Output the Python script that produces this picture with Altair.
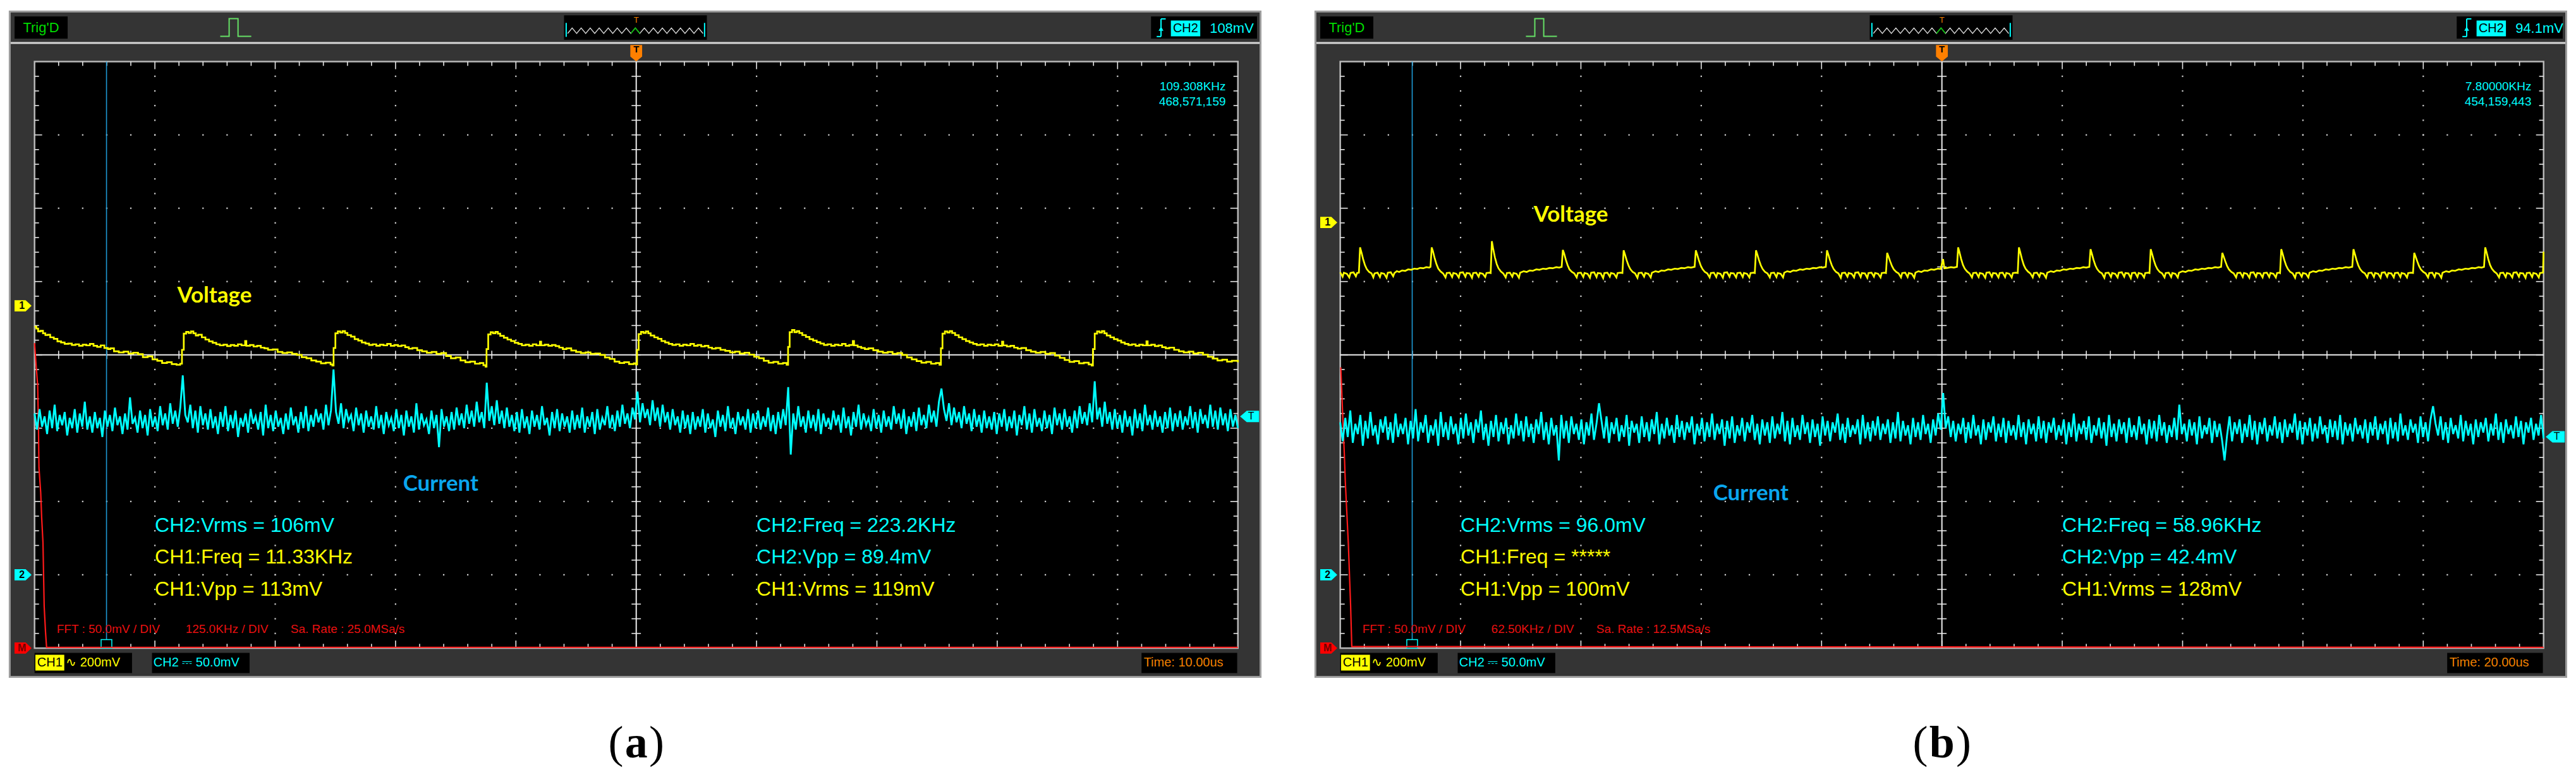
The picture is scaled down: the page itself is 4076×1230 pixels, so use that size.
import altair as alt
import pandas as pd

# ------------------------------------------------------------------ data
# Panel (a): 10 us/div, panel (b): 20 us/div.  CH1 = 200 mV/div, CH2 = 50 mV/div.
# Positions of channel markers (in screen divisions from centre).
ch1_marker = {"a": 0.669, "b": 1.806}
ch2_marker = {"a": -3.0, "b": -3.0}
trig_level_mv = {"a": 108.0, "b": 94.1}
timebase_us = {"a": 10.0, "b": 20.0}
fft_khz_per_div = {"a": 125.0, "b": 62.5}

# CH1 voltage, panel (a): (time us, mV relative to CH1 marker)
volt_a = [
    (0.0,-57),(0.15,-62),(0.3,-70),(0.5,-68),(0.7,-75),(0.9,-80),(1.1,-79),(1.3,-86),(1.6,-90),(1.9,-97),(2.2,-100),(2.5,-104),(2.8,-103),(3.1,-107),(3.4,-105),(3.7,-109),(4.0,-106),(4.3,-108),(4.6,-104),(4.9,-109),(5.2,-112),(5.5,-108),(5.8,-115),(6.1,-118),(6.3,-116),(6.6,-124),(7.0,-127),(7.4,-125),(7.8,-130),(8.2,-128),(8.6,-132),(9.0,-140),(9.4,-138),(9.8,-146),(10.2,-150),(10.6,-156),(11.0,-154),(11.4,-159),(11.8,-161),(12.1,-158),
    (12.25,-120),(12.4,-76),(12.6,-71),(12.8,-74),(13.0,-70),(13.2,-75),(13.4,-81),(13.6,-79),(13.9,-86),(14.2,-92),(14.5,-97),(14.8,-101),(15.1,-105),(15.4,-108),(15.7,-106),(16.0,-110),(16.3,-107),(16.6,-109),(16.9,-105),(17.2,-108),(17.5,-96),(17.6,-109),(17.9,-107),(18.2,-111),(18.5,-109),(18.8,-114),(19.1,-116),(19.4,-120),(19.8,-119),(20.2,-126),(20.6,-129),(21.0,-127),(21.4,-131),(21.8,-134),(22.2,-140),(22.6,-143),(23.0,-149),(23.4,-152),(23.8,-157),(24.2,-155),(24.6,-160),(24.75,-163),
    (24.85,-115),(25.0,-75),(25.2,-70),(25.4,-73),(25.6,-69),(25.8,-74),(26.0,-80),(26.3,-84),(26.6,-91),(26.9,-95),(27.2,-100),(27.5,-103),(27.8,-107),(28.1,-105),(28.4,-109),(28.7,-106),(29.0,-108),(29.3,-104),(29.6,-109),(29.9,-107),(30.2,-110),(30.5,-108),(30.8,-113),(31.1,-117),(31.4,-115),(31.8,-121),(32.2,-124),(32.6,-128),(33.0,-126),(33.4,-131),(33.8,-129),(34.2,-137),(34.6,-143),(35.0,-141),(35.4,-149),(35.8,-154),(36.2,-152),(36.6,-158),(37.0,-156),(37.3,-162),(37.48,-166),
    (37.56,-118),(37.7,-78),(37.9,-72),(38.1,-75),(38.3,-71),(38.5,-76),(38.7,-82),(39.0,-87),(39.3,-92),(39.6,-96),(39.9,-101),(40.2,-104),(40.5,-108),(40.8,-106),(41.1,-109),(41.4,-105),(41.7,-108),(42.0,-98),(42.1,-108),(42.4,-106),(42.7,-109),(43.0,-107),(43.3,-110),(43.6,-114),(43.9,-118),(44.2,-116),(44.6,-122),(45.0,-126),(45.4,-129),(45.8,-127),(46.2,-131),(46.6,-130),(47.0,-134),(47.4,-141),(47.8,-145),(48.2,-152),(48.6,-156),(49.0,-154),(49.4,-159),(49.8,-157),(49.98,-160),
    (50.07,-120),(50.2,-77),(50.4,-71),(50.6,-74),(50.8,-70),(51.0,-75),(51.2,-81),(51.5,-86),(51.8,-90),(52.1,-96),(52.4,-100),(52.7,-104),(53.0,-107),(53.3,-105),(53.6,-109),(53.9,-106),(54.2,-108),(54.5,-104),(54.8,-109),(55.1,-107),(55.4,-111),(55.7,-109),(56.0,-114),(56.3,-117),(56.6,-115),(57.0,-120),(57.4,-123),(57.8,-127),(58.2,-125),(58.6,-130),(59.0,-128),(59.4,-133),(59.8,-139),(60.2,-143),(60.6,-150),(61.0,-155),(61.4,-153),(61.8,-158),(62.2,-156),(62.5,-161),
    (62.62,-112),(62.75,-72),(62.95,-66),(63.15,-72),(63.35,-69),(63.55,-74),(63.8,-80),(64.1,-85),(64.4,-91),(64.7,-95),(65.0,-99),(65.3,-103),(65.6,-107),(65.9,-105),(66.2,-109),(66.5,-106),(66.8,-108),(67.1,-104),(67.4,-109),(67.7,-107),(68.0,-96),(68.1,-108),(68.4,-112),(68.7,-115),(69.0,-118),(69.3,-116),(69.7,-121),(70.1,-125),(70.5,-128),(70.9,-126),(71.3,-131),(71.7,-129),(72.1,-134),(72.5,-141),(72.9,-146),(73.3,-151),(73.7,-155),(74.1,-153),(74.5,-158),(74.9,-156),(75.2,-161),
    (75.32,-116),(75.45,-76),(75.65,-70),(75.85,-73),(76.05,-69),(76.25,-74),(76.5,-80),(76.8,-86),(77.1,-91),(77.4,-96),(77.7,-100),(78.0,-104),(78.3,-107),(78.6,-105),(78.9,-109),(79.2,-106),(79.5,-108),(79.8,-105),(80.1,-109),(80.4,-98),(80.5,-108),(80.8,-111),(81.1,-109),(81.4,-114),(81.7,-117),(82.0,-115),(82.4,-121),(82.8,-125),(83.2,-128),(83.6,-126),(84.0,-131),(84.4,-129),(84.8,-136),(85.2,-142),(85.6,-148),(86.0,-153),(86.4,-151),(86.8,-157),(87.2,-155),(87.6,-160),(87.85,-163),
    (87.95,-118),(88.1,-76),(88.3,-70),(88.5,-73),(88.7,-69),(88.9,-75),(89.1,-81),(89.4,-86),(89.7,-91),(90.0,-95),(90.3,-100),(90.6,-104),(90.9,-107),(91.2,-105),(91.5,-109),(91.8,-106),(92.1,-108),(92.4,-97),(92.5,-108),(92.8,-106),(93.1,-110),(93.4,-108),(93.7,-113),(94.0,-116),(94.3,-114),(94.7,-120),(95.1,-124),(95.5,-127),(95.9,-125),(96.3,-130),(96.7,-128),(97.1,-133),(97.5,-139),(97.9,-144),(98.3,-149),(98.7,-147),(99.1,-152),(99.5,-150),(100.0,-154),
]

# CH1 voltage, panel (b): (time us, mV relative to CH1 marker)
volt_b = [
    (0.0,-136),(0.4,-148),(0.6,-137),(1.1,-140),(1.5,-150),(1.7,-138),(2.2,-136),(2.6,-147),(2.8,-138),(3.1,-137),
    (3.3,-68),(3.5,-80),(3.8,-100),(4.1,-116),(4.4,-127),(4.8,-135),(5.2,-139),(5.5,-150),(5.7,-139),(6.2,-137),(6.6,-149),(6.8,-138),(7.3,-140),(7.7,-151),(7.9,-137),(8.4,-136),(8.8,-147),(9.0,-138),
    (9.4,-133),(9.8,-135),(10.3,-131),(10.8,-132),(11.3,-128),(11.8,-129),(12.3,-126),(12.8,-127),(13.3,-124),(13.8,-125),(14.3,-122),(14.8,-123),(15.0,-121),
    (15.2,-68),(15.4,-78),(15.7,-98),(16.0,-114),(16.3,-126),(16.7,-134),(17.1,-139),(17.5,-150),(17.7,-138),(18.2,-137),(18.6,-149),(18.8,-138),(19.3,-140),(19.7,-150),(19.9,-137),(20.4,-136),(20.8,-148),(21.0,-138),(21.5,-139),(21.9,-151),(22.1,-138),(22.6,-137),(23.0,-148),(23.2,-138),(23.7,-140),(24.1,-149),(24.3,-138),(24.8,-137),(25.0,-138),
    (25.2,-51),(25.4,-70),(25.7,-95),(26.0,-113),(26.3,-125),(26.7,-134),(27.1,-139),(27.5,-150),(27.7,-138),(28.2,-137),(28.6,-148),(28.8,-138),(29.3,-140),(29.7,-151),(29.9,-137),
    (30.5,-133),(31.0,-135),(31.5,-131),(32.0,-132),(32.6,-128),(33.1,-129),(33.7,-126),(34.2,-127),(34.8,-124),(35.3,-125),(35.9,-122),(36.4,-123),(36.8,-121),
    (37.0,-75),(37.2,-84),(37.5,-102),(37.8,-117),(38.1,-128),(38.5,-135),(38.9,-139),(39.3,-150),(39.5,-138),(40.0,-137),(40.4,-149),(40.6,-138),(41.1,-140),(41.5,-151),(41.7,-137),(42.2,-136),(42.6,-149),(42.8,-138),(43.3,-139),(43.7,-152),(43.9,-138),(44.4,-137),(44.8,-148),(45.0,-138),(45.5,-140),(45.9,-150),(46.1,-138),(46.6,-137),(46.9,-138),
    (47.1,-76),(47.3,-86),(47.6,-103),(47.9,-117),(48.2,-127),(48.6,-135),(49.0,-139),(49.4,-151),(49.6,-138),(50.1,-137),(50.5,-148),(50.7,-138),(51.2,-140),(51.6,-150),(51.8,-137),
    (52.4,-133),(52.9,-135),(53.4,-131),(53.9,-132),(54.5,-128),(55.0,-129),(55.6,-126),(56.1,-127),(56.7,-124),(57.2,-125),(57.8,-122),(58.3,-123),(58.9,-121),
    (59.1,-76),(59.3,-86),(59.6,-103),(59.9,-117),(60.2,-127),(60.6,-135),(61.0,-139),(61.4,-150),(61.6,-138),(62.1,-137),(62.5,-149),(62.7,-138),(63.2,-140),(63.6,-151),(63.8,-137),(64.3,-136),(64.7,-148),(64.9,-138),(65.4,-139),(65.8,-150),(66.0,-138),(66.5,-137),(66.9,-149),(67.1,-138),(67.6,-140),(68.0,-150),(68.2,-138),(68.7,-137),(68.9,-138),
    (69.1,-76),(69.3,-86),(69.6,-103),(69.9,-117),(70.2,-127),(70.6,-135),(71.0,-139),(71.4,-150),(71.6,-138),(72.1,-137),(72.5,-149),(72.7,-138),(73.2,-140),(73.6,-150),(73.8,-137),
    (74.3,-133),(74.8,-135),(75.3,-131),(75.8,-132),(76.4,-128),(76.9,-129),(77.5,-126),(78.0,-127),(78.6,-124),(79.1,-125),(79.7,-122),(80.2,-123),(80.7,-121),
    (80.9,-76),(81.1,-86),(81.4,-103),(81.7,-117),(82.0,-127),(82.4,-135),(82.8,-139),(83.2,-151),(83.4,-138),(83.9,-137),(84.3,-148),(84.5,-138),(85.0,-140),(85.4,-150),(85.6,-137),(86.1,-136),(86.5,-149),(86.7,-138),(87.2,-139),(87.6,-151),(87.8,-138),(88.3,-137),(88.7,-148),(88.9,-138),(89.4,-140),(89.8,-150),(90.0,-138),(90.5,-137),(90.7,-138),
    (90.9,-83),(91.1,-92),(91.4,-106),(91.7,-119),(92.0,-128),(92.4,-135),(92.8,-139),(93.2,-150),(93.4,-138),(93.9,-137),(94.3,-149),(94.5,-138),(95.0,-140),(95.4,-151),(95.6,-137),
    (96.1,-133),(96.6,-135),(97.1,-131),(97.6,-132),(98.2,-128),(98.7,-129),(99.3,-126),(99.8,-127),(100.2,-100),(100.4,-125),(100.9,-124),(101.5,-122),(102.0,-123),(102.5,-121),
    (102.7,-68),(102.9,-80),(103.2,-100),(103.5,-116),(103.8,-126),(104.2,-134),(104.6,-139),(105.0,-150),(105.2,-138),(105.7,-137),(106.1,-149),(106.3,-138),(106.8,-140),(107.2,-151),(107.4,-137),(107.9,-136),(108.3,-148),(108.5,-138),(109.0,-139),(109.4,-150),(109.6,-138),(110.1,-137),(110.5,-149),(110.7,-138),(111.2,-140),(111.6,-150),(111.8,-138),(112.3,-137),(112.6,-138),
    (112.8,-68),(113.0,-80),(113.3,-100),(113.6,-116),(113.9,-126),(114.3,-134),(114.7,-139),(115.1,-150),(115.3,-138),(115.8,-137),(116.2,-148),(116.4,-138),(116.9,-140),(117.3,-151),(117.5,-137),
    (118.1,-133),(118.6,-135),(119.1,-131),(119.6,-132),(120.2,-128),(120.7,-129),(121.3,-126),(121.8,-127),(122.4,-124),(122.9,-125),(123.5,-122),(124.0,-123),(124.5,-121),
    (124.7,-73),(124.9,-84),(125.2,-102),(125.5,-117),(125.8,-127),(126.2,-135),(126.6,-139),(127.0,-151),(127.2,-138),(127.7,-137),(128.1,-149),(128.3,-138),(128.8,-140),(129.2,-150),(129.4,-137),(129.9,-136),(130.3,-148),(130.5,-138),(131.0,-139),(131.4,-152),(131.6,-138),(132.1,-137),(132.5,-149),(132.7,-138),(133.2,-140),(133.6,-150),(133.8,-138),(134.3,-137),(134.5,-138),
    (134.7,-73),(134.9,-84),(135.2,-102),(135.5,-117),(135.8,-127),(136.2,-135),(136.6,-139),(137.0,-150),(137.2,-138),(137.7,-137),(138.1,-149),(138.3,-138),(138.8,-140),(139.2,-150),(139.4,-137),
    (140.0,-133),(140.5,-135),(141.0,-131),(141.5,-132),(142.1,-128),(142.6,-129),(143.2,-126),(143.7,-127),(144.3,-124),(144.8,-125),(145.4,-122),(145.9,-123),(146.4,-121),
    (146.6,-83),(146.8,-92),(147.1,-106),(147.4,-119),(147.7,-128),(148.1,-135),(148.5,-139),(148.9,-150),(149.1,-138),(149.6,-137),(150.0,-149),(150.2,-138),(150.7,-140),(151.1,-151),(151.3,-137),(151.8,-136),(152.2,-148),(152.4,-138),(152.9,-139),(153.3,-150),(153.5,-138),(154.0,-137),(154.4,-149),(154.6,-138),(155.1,-140),(155.5,-150),(155.7,-138),(156.1,-137),(156.2,-138),
    (156.4,-73),(156.6,-84),(156.9,-102),(157.2,-117),(157.5,-127),(157.9,-135),(158.3,-139),(158.7,-151),(158.9,-138),(159.4,-137),(159.8,-148),(160.0,-138),(160.5,-140),(160.9,-150),(161.1,-137),
    (161.7,-133),(162.2,-135),(162.7,-131),(163.2,-132),(163.8,-128),(164.3,-129),(164.9,-126),(165.4,-127),(166.0,-124),(166.5,-125),(167.1,-122),(167.6,-123),(168.2,-121),
    (168.4,-73),(168.6,-84),(168.9,-102),(169.2,-117),(169.5,-127),(169.9,-135),(170.3,-139),(170.7,-150),(170.9,-138),(171.4,-137),(171.8,-149),(172.0,-138),(172.5,-140),(172.9,-151),(173.1,-137),(173.6,-136),(174.0,-148),(174.2,-138),(174.7,-139),(175.1,-150),(175.3,-138),(175.8,-137),(176.2,-149),(176.4,-138),(176.9,-140),(177.3,-150),(177.5,-138),(178.0,-137),(178.3,-138),
    (178.5,-83),(178.7,-92),(179.0,-106),(179.3,-119),(179.6,-128),(180.0,-135),(180.4,-139),(180.8,-150),(181.0,-138),(181.5,-137),(181.9,-149),(182.1,-138),(182.6,-140),(183.0,-151),(183.2,-137),
    (183.8,-133),(184.3,-135),(184.8,-131),(185.3,-132),(185.9,-128),(186.4,-129),(187.0,-126),(187.5,-127),(188.1,-124),(188.6,-125),(189.2,-122),(189.7,-123),(190.1,-121),
    (190.3,-68),(190.5,-80),(190.8,-100),(191.1,-116),(191.4,-126),(191.8,-134),(192.2,-139),(192.6,-150),(192.8,-138),(193.3,-137),(193.7,-149),(193.9,-138),(194.4,-140),(194.8,-150),(195.0,-137),(195.5,-136),(195.9,-148),(196.1,-138),(196.6,-139),(197.0,-151),(197.2,-138),(197.7,-137),(198.1,-149),(198.3,-138),(198.8,-140),(199.2,-150),(199.4,-138),(199.9,-137),(200.0,-80),
]

# CH2 current samples (mV relative to CH2 marker), evenly spaced over the record
curr_a = [
    110,99,113,101,108,96,112,100,116,98,109,102,111,95,107,100,113,97,110,101,118,99,108,97,
    111,100,107,94,112,101,109,98,114,102,108,96,110,99,121,103,107,97,112,100,109,95,113,101,
    108,98,115,102,110,99,117,103,112,101,114,136,109,104,116,100,112,97,115,102,110,99,113,100,
    108,96,111,101,115,98,109,100,112,94,107,101,110,97,113,103,108,99,111,95,116,100,109,98,
    112,101,107,96,110,99,114,102,108,97,111,100,115,98,109,101,113,104,110,99,116,102,112,140,
    111,103,117,100,113,105,109,98,114,102,110,97,112,101,108,99,115,100,109,96,111,102,107,98,
    113,100,109,95,112,101,108,97,117,99,110,102,106,96,112,100,109,87,113,101,108,98,111,99,
    114,102,110,100,116,103,112,101,118,104,111,100,131,105,115,102,119,103,112,100,114,101,109,98,
    111,97,113,100,108,96,112,101,109,99,115,102,107,95,111,100,113,98,110,101,108,97,112,99,
    109,100,114,97,108,101,111,96,113,99,107,102,115,100,109,98,112,101,116,103,110,100,114,106,
    125,104,117,107,113,102,119,105,114,101,116,104,111,99,113,102,108,97,112,100,109,96,111,99,
    108,101,113,97,110,100,106,94,112,101,109,98,115,100,107,96,111,102,108,99,113,97,110,100,
    112,99,108,101,114,98,109,96,111,100,113,102,128,82,110,99,115,101,108,97,112,100,109,98,
    113,96,110,101,107,99,112,102,109,97,114,100,108,95,111,101,116,99,110,102,107,98,113,100,
    109,97,112,101,108,99,115,103,110,100,113,96,108,101,111,98,114,102,109,100,116,104,112,101,
    118,127,113,105,117,102,114,104,111,100,115,103,110,98,113,101,109,97,112,100,108,99,111,96,
    110,101,113,98,108,100,112,95,109,102,115,99,110,97,113,101,107,98,112,100,109,96,114,102,
    110,99,113,101,108,97,112,100,115,103,111,102,117,104,132,106,114,101,118,103,111,99,113,100,
    109,97,112,101,108,95,113,100,110,98,116,102,109,99,112,101,108,97,111,100,114,98,110,101,
    112,99,108,102,115,100,111,97,113,103,109,100,116,101,112,99,114,102,110,98,113,101,109,100,
]
curr_b = [
    104,91,107,94,112,90,103,96,109,88,105,93,111,95,102,89,106,97,108,92,104,90,110,94,
    103,96,107,89,105,93,113,91,104,97,109,90,102,95,106,88,111,94,104,92,108,96,103,89,
    107,93,110,95,104,90,106,97,112,92,103,88,105,94,109,91,104,96,107,89,102,93,110,95,
    105,91,108,94,103,90,106,96,111,92,104,89,107,95,102,78,109,93,105,90,108,96,103,92,
    106,89,104,95,110,92,103,117,105,93,108,90,104,96,107,91,102,94,109,88,105,97,103,90,
    108,94,104,91,106,96,111,89,103,93,107,95,102,90,109,94,105,92,104,97,108,89,103,95,
    107,91,104,94,110,92,103,96,106,88,105,93,108,90,102,95,107,91,104,97,109,92,103,89,
    106,95,104,90,108,93,103,96,111,91,105,89,107,94,102,92,109,96,104,90,106,94,103,88,
    108,95,105,91,104,97,110,92,103,90,107,94,102,96,106,89,109,93,104,91,105,95,108,92,
    103,96,106,90,104,93,111,91,105,95,102,89,107,94,104,92,109,96,103,90,106,95,110,99,
    124,100,108,94,105,91,103,96,107,90,104,93,109,95,102,89,106,92,104,97,108,91,103,94,
    107,90,105,95,102,92,109,94,104,89,106,96,103,91,108,93,105,90,104,97,107,92,102,95,
    106,89,104,94,110,91,103,96,105,92,108,90,102,95,107,93,104,88,109,94,103,91,106,96,
    104,90,107,94,102,92,108,96,103,89,106,93,105,91,109,95,104,90,102,94,107,92,116,96,
    103,91,106,95,104,89,108,93,102,96,107,90,105,94,103,92,78,95,108,91,104,96,106,90,
    103,94,109,92,105,89,104,96,107,91,102,95,108,93,104,90,106,94,103,97,110,92,105,89,
    104,95,107,91,103,93,108,96,102,90,106,94,105,92,109,89,104,95,103,91,107,96,102,93,
    106,90,104,95,108,92,103,96,105,89,107,93,104,91,110,95,102,92,106,97,103,90,108,94,
    104,91,106,115,103,95,108,92,104,90,107,96,102,93,109,91,105,95,103,89,106,94,104,97,
    107,91,103,95,110,92,104,90,106,96,102,93,108,94,105,89,104,97,107,92,103,95,109,93,
]

# FFT (math) trace: frequency kHz, amplitude mV above the M marker (50 mV/div)
fft_a_khz = [0, 1.5, 3.25, 4.1, 4.6, 6.4, 7.4, 8.75, 10.0, 11.4, 12.5, 1250]
fft_a_mv = [208, 194, 179, 149, 123, 106, 89, 72, 28.5, 11, 0.5, 0.5]
fft_b_khz = [0.3, 1.25, 2.2, 2.6, 4.2, 5.4, 6.0, 625]
fft_b_mv = [191.5, 160, 130, 114.5, 71.5, 28.5, 1, 0.5]

# Readouts
meas_left = {
    "a": ["CH2:Vrms = 106mV", "CH1:Freq = 11.33KHz", "CH1:Vpp = 113mV"],
    "b": ["CH2:Vrms = 96.0mV", "CH1:Freq = *****", "CH1:Vpp = 100mV"],
}
meas_right = {
    "a": ["CH2:Freq = 223.2KHz", "CH2:Vpp = 89.4mV", "CH1:Vrms = 119mV"],
    "b": ["CH2:Freq = 58.96KHz", "CH2:Vpp = 42.4mV", "CH1:Vrms = 128mV"],
}
meas_left_ch = ["CH2", "CH1", "CH1"]
meas_right_ch = ["CH2", "CH2", "CH1"]
counter_text = {"a": ["109.308KHz", "468,571,159"], "b": ["7.80000KHz", "454,159,443"]}
trig_text = {"a": "108mV", "b": "94.1mV"}
fft_text = {
    "a": ["FFT :  50.0mV / DIV", "125.0KHz / DIV", "Sa. Rate : 25.0MSa/s"],
    "b": ["FFT :  50.0mV / DIV", "62.50KHz / DIV", "Sa. Rate : 12.5MSa/s"],
}
time_text = {"a": "Time: 10.00us", "b": "Time: 20.00us"}
label_volt = {"a": (1.186, 0.71), "b": (1.607, 1.817)}
label_curr = {"a": (3.062, -1.852), "b": (3.099, -1.981)}
captions = {"a": "a", "b": "b"}

# ------------------------------------------------------------------ layout
W, H = 1995, 1214
XS = alt.Scale(domain=[-0.2451, 10.2273], nice=False, zero=False)
YS = alt.Scale(domain=[-5.687, 4.769], nice=False, zero=False)
CYAN, YEL, RED, ORANGE, GREEN = "#00FFFF", "#FFFF00", "#FF1A1A", "#F08000", "#00DD00"
CHCOL = {"CH1": YEL, "CH2": CYAN}
SANS = "Liberation Sans"


def ex(f="x"):
    return alt.X(f"{f}:Q", scale=XS, axis=None)


def ey(f="y"):
    return alt.Y(f"{f}:Q", scale=YS, axis=None)


def rects(rows, **kw):
    df = pd.DataFrame(rows, columns=["x", "x2", "y", "y2"])
    return alt.Chart(df).mark_rect(**kw).encode(x=ex(), x2="x2:Q", y=ey(), y2="y2:Q")


def rules(rows, **kw):
    df = pd.DataFrame(rows, columns=["x", "x2", "y", "y2"])
    return alt.Chart(df).mark_rule(**kw).encode(x=ex(), x2="x2:Q", y=ey(), y2="y2:Q")


def texts(rows, **kw):
    df = pd.DataFrame(rows, columns=["x", "y", "t", "c"])
    return alt.Chart(df).mark_text(**kw).encode(
        x=ex(), y=ey(), text="t:N", color=alt.Color("c:N", scale=None))


def points(rows, **kw):
    df = pd.DataFrame(rows, columns=["x", "y", "c"])
    return alt.Chart(df).mark_point(**kw).encode(
        x=ex(), y=ey(), fill=alt.Color("c:N", scale=None))


def poly(xs, ys, **kw):
    df = pd.DataFrame({"x": xs, "y": ys, "i": list(range(len(xs)))})
    return alt.Chart(df).mark_line(**kw).encode(x=ex(), y=ey(), order="i:Q")


ARROW_R = "M-1,-0.66L0.3,-0.66L1,0L0.3,0.66L-1,0.66Z"
ARROW_L = "M1,-0.6L-0.3,-0.6L-1,0L-0.3,0.6L1,0.6Z"
ARROW_D = "M-0.72,-1L0.72,-1L0.72,0.4L0,1L-0.72,0.4Z"

# grid geometry (screen divisions)
minor_x = [i * 0.2 for i in range(1, 50)]
minor_y = [j * 0.2 for j in range(-19, 20)]


def grid_layers():
    L = []
    tick_rows = []
    for i, x in enumerate(minor_x, start=1):
        lx = 0.103 if i % 5 == 0 else 0.058
        tick_rows.append((x, x, 4, 4 - lx))
        tick_rows.append((x, x, -4, -4 + lx))
        tick_rows.append((x, x, -0.056, 0.056))
    for j, y in zip(range(-19, 20), minor_y):
        ly = 0.063 if j % 5 == 0 else 0.037
        tick_rows.append((0, ly, y, y))
        tick_rows.append((10 - ly, 10, y, y))
        tick_rows.append((5 - 0.039, 5 + 0.039, y, y))
    L.append(rules(tick_rows, color="#E6E6E6", strokeWidth=1.6))
    dots = []
    for k in range(1, 10):
        if k == 5:
            continue
        for y in minor_y:
            dots.append((k, y))
    for j in range(-3, 4):
        if j == 0:
            continue
        for x in minor_x:
            dots.append((x, j))
    ddf = pd.DataFrame(dots, columns=["x", "y"])
    L.append(alt.Chart(ddf).mark_square(size=5, color="#D0D0D0", opacity=1).encode(x=ex(), y=ey()))
    L.append(rules([(0, 10, 0, 0), (5, 5, -4, 4)], color="#EDEDED", strokeWidth=2))
    return L


def panel(p):
    tb = timebase_us[p]
    c1 = ch1_marker[p]
    c2 = ch2_marker[p]
    L = []
    # bezel
    L.append(rects([(-0.2063, 10.188, -4.393, 4.683)], fill="#343434", stroke="#9C9C9C", strokeWidth=3))
    L.append(rules([(-0.198, 10.18, 4.255, 4.255)], color="#D8D8D8", strokeWidth=3))
    # screen
    L.append(rects([(0, 10, -4, 4)], fill="#000000", stroke="#B8B8B8", strokeWidth=2.5))
    L += grid_layers()
    # cursor
    L.append(rules([(0.598, 0.598, -4, 4)], color="#1E9BD7", strokeWidth=1.6))
    L.append(rects([(0.553, 0.642, -4.0, -3.885)], fill="#000000", stroke=CYAN, strokeWidth=1.5))
    # FFT trace
    fk = fft_a_khz if p == "a" else fft_b_khz
    fm = fft_a_mv if p == "a" else fft_b_mv
    fdf = pd.DataFrame({"f": fk, "m": fm, "i": list(range(len(fk)))})
    L.append(alt.Chart(fdf).mark_line(color=RED, strokeWidth=2.2).transform_calculate(
        x=f"datum.f / {fft_khz_per_div[p]}", y="-4 + datum.m / 50").encode(x=ex(), y=ey(), order="i:Q"))
    # current trace
    cur = curr_a if p == "a" else curr_b
    T = tb * 10
    cdf = pd.DataFrame({"t": [i * T / (len(cur) - 1) for i in range(len(cur))], "m": cur})
    L.append(alt.Chart(cdf).mark_line(color=CYAN, strokeWidth=2.9).transform_calculate(
        x=f"datum.t / {tb}", y=f"{c2} + datum.m / 50").encode(x=ex(), y=ey(), order="t:Q"))
    # voltage trace
    vol = volt_a if p == "a" else volt_b
    vdf = pd.DataFrame(vol, columns=["t", "m"])
    vdf["i"] = range(len(vdf))
    L.append(alt.Chart(vdf).mark_line(color=YEL, strokeWidth=2.7,
                                      interpolate="step-after" if p == "a" else "linear").transform_calculate(
        x=f"datum.t / {tb}", y=f"{c1} + datum.m / 200").encode(x=ex(), y=ey(), order="i:Q"))
    # labels Voltage / Current
    vx, vy = label_volt[p]
    cx, cy = label_curr[p]
    L.append(texts([(vx, vy, "Voltage", "#FFFF00")], font="Lato", fontSize=35, fontWeight="bold",
                   align="left", baseline="alphabetic"))
    L.append(texts([(cx, cy, "Current", "#0AA6EE")], font="Lato", fontSize=35, fontWeight="bold",
                   align="left", baseline="alphabetic"))
    # readouts
    rows_y = [-2.412, -2.842, -3.282]
    mrows = []
    for t, ch, y in zip(meas_left[p], meas_left_ch, rows_y):
        mrows.append((1.0, y, t, CHCOL[ch]))
    for t, ch, y in zip(meas_right[p], meas_right_ch, rows_y):
        mrows.append((6.0, y, t, CHCOL[ch]))
    L.append(texts(mrows, font=SANS, fontSize=32, align="left", baseline="alphabetic"))
    L.append(texts([(x, -3.745, t, "#E81010") for x, t in zip([0.184, 1.255, 2.128], fft_text[p])],
                   font=SANS, fontSize=19, align="left", baseline="middle"))
    L.append(texts([(9.899, 3.662, counter_text[p][0], CYAN), (9.899, 3.451, counter_text[p][1], CYAN)],
                   font=SANS, fontSize=19, align="right", baseline="middle"))
    # top bar
    L.append(rects([(-0.166, 0.275, 4.313, 4.617), (4.400, 5.587, 4.298, 4.631), (9.278, 10.159, 4.313, 4.617)],
                   fill="#000000"))
    L.append(texts([(0.054, 4.459, "Trig'D", GREEN)], font=SANS, fontSize=22, align="center", baseline="middle"))
    pulse_x = [1.543, 1.617, 1.617, 1.691, 1.691, 1.801]
    pulse_y = [4.345, 4.345, 4.586, 4.586, 4.345, 4.345]
    L.append(poly(pulse_x, pulse_y, color="#66E066", strokeWidth=2))
    zig_x = [4.43 + k * (1.125 / 30) for k in range(31)]
    zig_y = [4.384 if k % 2 == 0 else 4.459 for k in range(31)]
    L.append(poly(zig_x, zig_y, color="#D8D8D8", strokeWidth=1.4))
    L.append(poly(zig_x[14:17], zig_y[14:17], color="#00C000", strokeWidth=1.6))
    L.append(rules([(4.418, 4.418, 4.338, 4.528), (5.568, 5.568, 4.338, 4.528)], color=CYAN, strokeWidth=2))
    L.append(texts([(5.0, 4.565, "T", ORANGE)], font=SANS, fontSize=13, align="center", baseline="middle"))
    # trigger source
    L.append(rects([(9.443, 9.687, 4.345, 4.560)], fill=CYAN))
    L.append(texts([(9.565, 4.452, "CH2", "#000000")], font=SANS, fontSize=20, align="center", baseline="middle"))
    L.append(texts([(9.766, 4.452, trig_text[p], CYAN)], font=SANS, fontSize=22, align="left", baseline="middle"))
    L.append(rules([(9.361, 9.361, 4.342, 4.583), (9.361, 9.40, 4.583, 4.583), (9.325, 9.361, 4.342, 4.342)],
                   color=CYAN, strokeWidth=2))
    L.append(points([(9.361, 4.45, CYAN)], shape="triangle-up", size=60, filled=True, opacity=1, strokeWidth=0))
    # trigger position marker (top)
    L.append(points([(5.0, 4.115, "#FF8000")], shape=ARROW_D, size=676, filled=True, opacity=1, strokeWidth=0))
    L.append(texts([(5.0, 4.168, "T", "#000000")], font=SANS, fontSize=15, fontWeight="bold",
                   align="center", baseline="middle"))
    # channel markers (left) and trigger level (right)
    L.append(points([(-0.0955, c1, YEL), (-0.0955, c2, CYAN), (-0.0955, -4.0, "#FF0000")],
                    shape=ARROW_R, size=729, filled=True, opacity=1, strokeWidth=0))
    L.append(texts([(-0.105, c1, "1", "#000000"), (-0.105, c2, "2", "#000000"), (-0.105, -4.0, "M", "#700000")],
                   font=SANS, fontSize=16, fontWeight="bold", align="center", baseline="middle"))
    tl = c2 + trig_level_mv[p] / 50
    L.append(points([(10.097, tl, CYAN)], shape=ARROW_L, size=900, filled=True, opacity=1, strokeWidth=0))
    L.append(texts([(10.11, tl, "T", "#000000")], font=SANS, fontSize=16, align="center", baseline="middle"))
    # bottom bar
    L.append(rects([(0, 0.81, -4.341, -4.066), (0.976, 1.787, -4.341, -4.066), (9.199, 9.994, -4.341, -4.066)],
                   fill="#000000"))
    L.append(rects([(0.007, 0.247, -4.307, -4.092)], fill=YEL))
    L.append(texts([(0.127, -4.2, "CH1", "#000000")], font=SANS, fontSize=20, align="center", baseline="middle"))
    L.append(texts([(0.26, -4.2, "\u223f 200mV", YEL), (0.988, -4.2, "CH2 \u2393 50.0mV", CYAN),
                    (9.217, -4.2, time_text[p], ORANGE)],
                   font=SANS, fontSize=20, align="left", baseline="middle"))
    # caption: regular parentheses around a bold letter
    half = 0.0945 if p == "a" else 0.105
    L.append(texts([(5.0 - half - 0.012, -5.489, "(", "#000000")], font="Liberation Serif", fontSize=72,
                   baseline="alphabetic", align="right"))
    L.append(texts([(5.0 + half + 0.012, -5.489, ")", "#000000")], font="Liberation Serif", fontSize=72,
                   baseline="alphabetic", align="left"))
    L.append(texts([(5.0, -5.489, captions[p], "#000000")], font="Liberation Serif", fontSize=72,
                   fontWeight="bold", align="center", baseline="alphabetic"))
    return alt.layer(*L).properties(width=W, height=H)


chart = alt.hconcat(panel("a"), panel("b"), spacing=72).properties(
    padding=0, background="white").configure_view(strokeWidth=0, stroke="transparent")
chart.save("out.html", embed_options={"renderer": "svg", "actions": False})
